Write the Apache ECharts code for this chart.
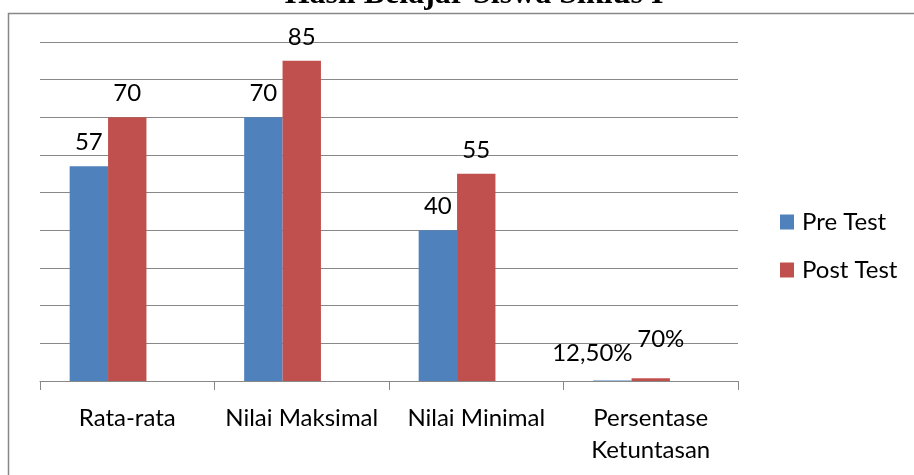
<!DOCTYPE html>
<html><head><meta charset="utf-8">
<script src="https://cdn.jsdelivr.net/npm/echarts@6/dist/echarts.min.js"></script>
<style>html,body{margin:0;padding:0;background:#fff}#c{width:914px;height:475px}</style>
</head><body><div id="c"></div>
<script>
var categories = ['Rata-rata', 'Nilai Maksimal', 'Nilai Minimal', 'Persentase\nKetuntasan'];
var preTest = [57, 70, 40, 0.125];
var postTest = [70, 85, 55, 0.7];
var emptySeries = [null, null, null, null];
var preLabels = ['57', '70', '40', '12,50%'];
var postLabels = ['70', '85', '55', '70%'];
var seriesNames = ['Pre Test', 'Post Test'];
var titleText = 'Hasil Belajar Siswa Siklus I';

var FONT = 'Lato';
var FS = 24;
var chart = echarts.init(document.getElementById('c'));

function buildData(vals, labels, lastOffset) {
  return vals.map(function (v, i) {
    var item = { value: v, label: { formatter: labels[i] } };
    if (i === vals.length - 1) item.label.offset = lastOffset;
    return item;
  });
}

var labelStyle = { show: true, position: 'top', distance: 12, color: '#000', fontFamily: FONT, fontSize: FS };

chart.setOption({
  animation: false,
  title: {
    text: titleText, left: 469, textAlign: 'center', top: -26,
    textStyle: { fontFamily: 'Liberation Serif', fontWeight: 'bold', fontSize: 32, color: '#000' }
  },
  graphic: [{
    type: 'rect', left: 6, top: 11, shape: { width: 1000, height: 1000 },
    style: { fill: 'none', stroke: '#888', lineWidth: 1.5 }, silent: true
  }],
  legend: {
    orient: 'vertical', left: 780, top: 210, padding: 0, icon: 'rect',
    itemWidth: 14, itemHeight: 15, itemGap: 24,
    textStyle: { fontFamily: FONT, fontSize: FS, color: '#000', padding: [0, 0, 0, 3] },
    data: seriesNames
  },
  grid: { left: 40, right: 176, top: 42, bottom: 94 },
  xAxis: {
    type: 'category', data: categories,
    axisLine: { lineStyle: { color: '#888', width: 1 } },
    axisTick: { show: true, length: 9, lineStyle: { color: '#888' } },
    axisLabel: { color: '#000', fontFamily: FONT, fontSize: FS, margin: 21, lineHeight: 32, interval: 0 }
  },
  yAxis: {
    type: 'value', min: 0, max: 90, interval: 10,
    axisLine: { show: false }, axisTick: { show: false }, axisLabel: { show: false },
    splitLine: { lineStyle: { color: '#888', width: 1 } }
  },
  series: [
    { name: seriesNames[0], type: 'bar', barGap: '0%', barCategoryGap: '34%',
      itemStyle: { color: '#4F81BD' }, label: labelStyle,
      data: buildData(preTest, preLabels, [-20, -3]) },
    { name: seriesNames[1], type: 'bar', barGap: '0%', barCategoryGap: '34%',
      itemStyle: { color: '#C0504D' }, label: labelStyle,
      data: buildData(postTest, postLabels, [10, -15]) },
    { name: 'blank', type: 'bar', barGap: '0%', barCategoryGap: '34%',
      itemStyle: { color: '#9BBB59' }, data: emptySeries }
  ]
});
</script></body></html>
